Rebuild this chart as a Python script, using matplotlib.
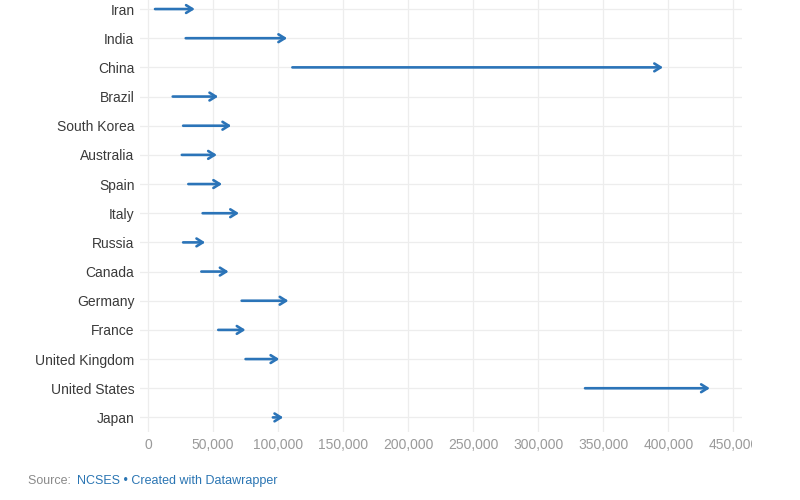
import matplotlib
matplotlib.use("Agg")
import matplotlib.pyplot as plt
from matplotlib.transforms import Bbox, TransformedBbox

# data (start -> end value per country)
countries = ["Iran", "India", "China", "Brazil", "South Korea", "Australia", "Spain",
             "Italy", "Russia", "Canada", "Germany", "France", "United Kingdom",
             "United States", "Japan"]
start_vals = [5400, 29000, 111000, 19000, 27000, 26000, 31000,
              42000, 27000, 41000, 72000, 54000, 75000, 336000, 96000]
end_vals = [36000, 107000, 396000, 54000, 64000, 53000, 57000,
            70000, 44000, 62000, 108000, 75000, 101000, 432000, 104000]
xticks = [0, 50000, 100000, 150000, 200000, 250000, 300000, 350000, 400000, 450000]

plt.rcParams['font.family'] = ['Liberation Sans', 'DejaVu Sans']
arrow_color = "#2b74b8"

fig = plt.figure(figsize=(8, 5), dpi=100)
ax = fig.add_axes([0.175, 0.136, 0.753, 0.864])

for i in range(len(countries)):
    ax.annotate("", xy=(end_vals[i], i), xytext=(start_vals[i], i),
                arrowprops=dict(arrowstyle="->,head_length=0.45,head_width=0.28",
                                color=arrow_color, lw=1.9,
                                shrinkA=0, shrinkB=0))

ax.set_xlim(-6150, 457000)
ax.set_ylim(14.5, -0.31)
ax.set_yticks(range(len(countries)))
ax.set_yticklabels(countries)
ax.set_xticks(xticks)
ax.set_xticklabels(["{:,}".format(t) for t in xticks])

ax.grid(True, color="#ededed", lw=0.9)
ax.set_axisbelow(True)
for s in ax.spines.values():
    s.set_visible(False)
ax.tick_params(axis="y", length=0, pad=4, labelsize=10, labelcolor="#3a3a3a")
ax.tick_params(axis="x", length=0, pad=4, labelsize=10, labelcolor="#9a9a9a")

fig.canvas.draw()
# the last tick label is cut off at the right edge in the original
clip = TransformedBbox(Bbox([[0, 0], [752 / 800, 1]]), fig.transFigure)
for lbl in ax.get_xticklabels():
    lbl.set_clip_box(clip)
    lbl.set_clip_on(True)

fig.text(28 / 800, 1 - 481 / 500, "Source: ", color="#8a8a8a", fontsize=9, va="center")
fig.text(77 / 800, 1 - 481 / 500, "NCSES • Created with Datawrapper", color="#2a75b3",
         fontsize=9, va="center")

plt.savefig("out.png", dpi=100)
